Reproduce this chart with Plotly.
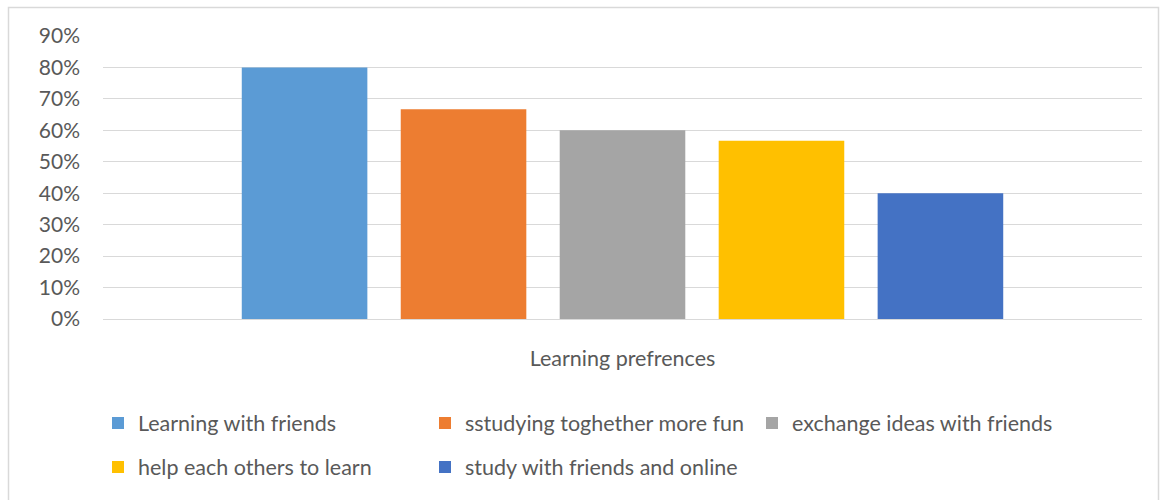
import plotly.graph_objects as go

category = ["Learning prefrences"]
series_names = [
    "Learning with friends",
    "sstudying toghether more fun",
    "exchange ideas with friends",
    "help each others to learn",
    "study with friends and online",
]
series_values = [0.80, 0.667, 0.60, 0.567, 0.40]
colors = ["#5B9BD5", "#ED7D31", "#A5A5A5", "#FFC000", "#4472C4"]
y_ticks = [0, 0.1, 0.2, 0.3, 0.4, 0.5, 0.6, 0.7, 0.8, 0.9]

FONT = "Lato, 'Open Sans', sans-serif"
TXT = "#595959"

fig = go.Figure()
for i, (name, val, col) in enumerate(zip(series_names, series_values, colors)):
    fig.add_trace(go.Bar(
        x=category, y=[val], name=name, marker_color=col,
        marker_line_width=0,
        legend="legend" if i < 3 else "legend2",
    ))

W, H = 1161, 500
ml, mr, mt, mb = 103, 19, 36, 181
pw, ph = W - ml - mr, H - mt - mb

def px_x(x):
    return (x - ml) / pw

def px_y(y):
    return (H - mb - y) / ph

legend_common = dict(
    orientation="h", xanchor="left", yanchor="middle",
    entrywidth=282, entrywidthmode="pixels", itemwidth=30,
    font=dict(family=FONT, size=21.5, color=TXT), bgcolor="rgba(0,0,0,0)",
    traceorder="normal", itemclick=False,
)

fig.update_layout(
    width=W, height=H,
    margin=dict(l=ml, r=mr, t=mt, b=mb, pad=0),
    paper_bgcolor="white", plot_bgcolor="white",
    barmode="group", bargap=0.235, bargroupgap=0.21,
    font=dict(family=FONT, size=21, color=TXT),
    showlegend=True,
    legend=dict(x=px_x(98), y=px_y(423), **legend_common),
    legend2=dict(x=px_x(98), y=px_y(467), **legend_common),
    xaxis=dict(
        showgrid=False, showline=True, linecolor="#D9D9D9", linewidth=1,
        ticks="outside", ticklen=20, tickcolor="rgba(0,0,0,0)",
        tickfont=dict(family=FONT, size=21.5, color=TXT),
        fixedrange=True,
    ),
    yaxis=dict(
        range=[0, 0.9], tickvals=y_ticks, tickformat=".0%",
        showgrid=True, gridcolor="#D9D9D9", gridwidth=1,
        zeroline=True, zerolinecolor="#D9D9D9", zerolinewidth=1,
        showline=False, ticks="", ticklabelstandoff=22,
        tickfont=dict(family=FONT, size=21, color=TXT),
        fixedrange=True,
    ),
    shapes=[dict(
        type="rect", xref="paper", yref="paper",
        x0=px_x(8.5), x1=px_x(1158.5), y0=px_y(520), y1=px_y(7.5),
        line=dict(color="#D9D9D9", width=1.5), fillcolor="rgba(0,0,0,0)", layer="below",
    )],
)

fig.write_html("out.html")
